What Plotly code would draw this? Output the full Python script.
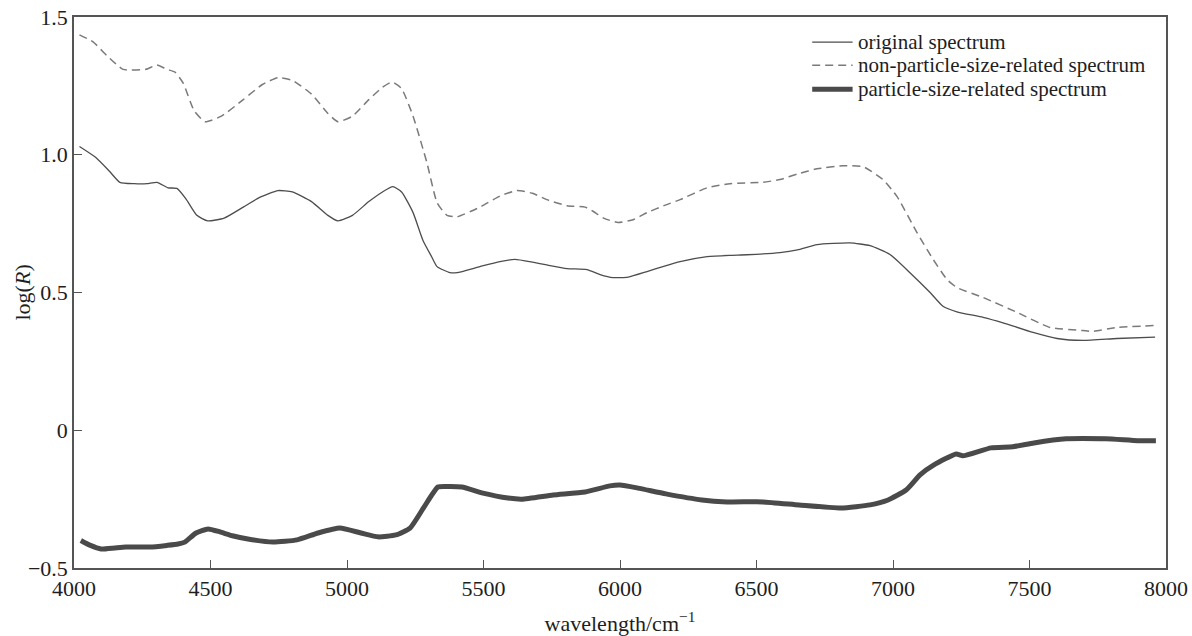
import plotly.graph_objects as go

# ---- data ----
orig_x = [4020, 4080, 4130, 4168, 4220, 4267, 4304, 4344, 4377, 4410, 4450, 4490, 4550, 4620, 4680,
          4747, 4800, 4870, 4930, 4967, 5020, 5080, 5130, 5168, 5200, 5242, 5278, 5310, 5330, 5377,
          5403, 5487, 5560, 5615, 5680, 5732, 5806, 5879, 5927, 5974, 6030, 6099, 6160, 6220, 6319,
          6400, 6465, 6586, 6650, 6722, 6842, 6916, 6989, 7062, 7136, 7183, 7234, 7330, 7403, 7513,
          7601, 7696, 7820, 7960]
orig_y = [1.03, 0.99, 0.94, 0.90, 0.895, 0.895, 0.90, 0.88, 0.878, 0.84, 0.78, 0.76, 0.77, 0.81, 0.845,
          0.87, 0.865, 0.83, 0.78, 0.76, 0.78, 0.83, 0.865, 0.884, 0.865, 0.79, 0.69, 0.63, 0.594, 0.572,
          0.572, 0.594, 0.612, 0.62, 0.61, 0.60, 0.587, 0.583, 0.565, 0.554, 0.556, 0.576, 0.595, 0.612, 0.63,
          0.635, 0.637, 0.645, 0.655, 0.674, 0.68, 0.67, 0.638, 0.572, 0.50, 0.45, 0.43, 0.41, 0.39, 0.355,
          0.333, 0.326, 0.333, 0.338]

nonp_x = [4020, 4070, 4120, 4180, 4264, 4304, 4340, 4370, 4400, 4440, 4480, 4540, 4620, 4690, 4747,
          4800, 4870, 4930, 4967, 5020, 5080, 5130, 5165, 5200, 5242, 5293, 5330, 5366, 5403, 5487,
          5560, 5622, 5680, 5732, 5806, 5872, 5901, 5940, 5993, 6050, 6099, 6160, 6220, 6319, 6403,
          6524, 6586, 6650, 6722, 6817, 6890, 6963, 7015, 7088, 7147, 7198, 7234, 7330, 7454, 7575,
          7696, 7733, 7820, 7960]
nonp_y = [1.435, 1.41, 1.36, 1.31, 1.31, 1.326, 1.31, 1.30, 1.26, 1.16, 1.12, 1.14, 1.20, 1.255, 1.28,
          1.27, 1.22, 1.15, 1.12, 1.14, 1.20, 1.245, 1.264, 1.24, 1.14, 0.97, 0.826, 0.78, 0.775, 0.81,
          0.85, 0.87, 0.86, 0.837, 0.815, 0.81, 0.795, 0.77, 0.754, 0.765, 0.79, 0.815, 0.837, 0.88, 0.895,
          0.90, 0.91, 0.93, 0.949, 0.96, 0.957, 0.91, 0.848, 0.717, 0.62, 0.547, 0.518, 0.482, 0.428, 0.373,
          0.362, 0.359, 0.373, 0.38]

part_x = [4025, 4060, 4099, 4150, 4190, 4278, 4340, 4381, 4406, 4447, 4491, 4535, 4580, 4637, 4729,
          4817, 4894, 4974, 5051, 5114, 5179, 5231, 5282, 5333, 5370, 5421, 5498, 5590, 5641, 5755,
          5872, 5963, 6000, 6066, 6168, 6300, 6392, 6524, 6656, 6810, 6916, 6982, 7048, 7099, 7150,
          7231, 7256, 7359, 7439, 7516, 7634, 7780, 7897, 7963]
part_y = [-0.40, -0.418, -0.431, -0.427, -0.424, -0.424, -0.418, -0.413, -0.406, -0.373, -0.358, -0.369, -0.383, -0.395, -0.406,
          -0.398, -0.373, -0.355, -0.373, -0.387, -0.380, -0.355, -0.279, -0.206, -0.204, -0.206, -0.228, -0.246, -0.250, -0.235,
          -0.224, -0.202, -0.199, -0.210, -0.231, -0.253, -0.260, -0.260, -0.271, -0.282, -0.271, -0.253, -0.217, -0.162, -0.126,
          -0.086, -0.093, -0.064, -0.060, -0.046, -0.031, -0.031, -0.038, -0.038]

x_ticks = [4000, 4500, 5000, 5500, 6000, 6500, 7000, 7500, 8000]
y_ticks = [-0.5, 0, 0.5, 1.0, 1.5]
y_ticktext = ["\u22120.5", "0", "0.5", "1.0", "1.5"]

series_names = ["original spectrum", "non-particle-size-related spectrum", "particle-size-related spectrum"]

FONT = "Liberation Serif, Times New Roman, serif"
TXT = "#1e1e1e"

styles = [
    dict(color="#4d4d4d", width=1.3, dash="solid"),
    dict(color="#7a7a7a", width=1.5, dash="8px,5px"),
    dict(color="#4a4a4a", width=5, dash="solid"),
]
xs = [orig_x, nonp_x, part_x]
ys = [orig_y, nonp_y, part_y]

fig = go.Figure()
for name, x, y, st in zip(series_names, xs, ys, styles):
    fig.add_trace(go.Scatter(x=x, y=y, mode="lines", name=name, showlegend=False,
                             line=dict(shape="spline", smoothing=0.5, **st)))

# legend drawn in paper coordinates (compact row spacing as in the reference)
leg_x0, leg_x1, leg_tx = 0.676, 0.713, 0.716
leg_rows = [0.9545, 0.9125, 0.869]
for name, st, ry in zip(series_names, styles, leg_rows):
    fig.add_shape(type="line", xref="paper", yref="paper", x0=leg_x0, x1=leg_x1, y0=ry, y1=ry,
                  line=dict(color=st["color"], width=st["width"], dash=st["dash"]))
    fig.add_annotation(xref="paper", yref="paper", x=leg_tx, y=ry, text=name, showarrow=False,
                       xanchor="left", yanchor="middle", font=dict(family=FONT, size=21, color=TXT))

# y-axis title placed as in the reference
fig.add_annotation(xref="paper", yref="paper", x=-0.0476, y=0.5, text="log(<i>R</i>)", showarrow=False,
                   textangle=-90, xanchor="center", yanchor="middle", font=dict(family=FONT, size=22, color=TXT))

axis_common = dict(showgrid=False, zeroline=False, showline=True, linecolor="#555555", linewidth=1.5,
                   mirror=True, ticks="inside", ticklen=8, tickwidth=1.3, tickcolor="#555555",
                   automargin=False, tickfont=dict(family=FONT, size=22, color=TXT))

fig.update_xaxes(range=[4000, 8000], tickvals=x_ticks, ticktext=[str(v) for v in x_ticks],
                 title=dict(text="wavelength/cm<sup>\u22121</sup>", font=dict(family=FONT, size=22, color=TXT),
                            standoff=16),
                 **axis_common)
fig.update_yaxes(range=[-0.5, 1.5], tickvals=y_ticks, ticktext=y_ticktext, **axis_common)

fig.update_layout(
    width=1192, height=636,
    margin=dict(l=74, r=26, t=17, b=68),
    paper_bgcolor="white", plot_bgcolor="white",
    font=dict(family=FONT, size=22, color=TXT),
    showlegend=False,
)

fig.write_html("out.html", config={"displayModeBar": False},
               post_script="document.body.style.margin='0';document.body.style.padding='0';")
